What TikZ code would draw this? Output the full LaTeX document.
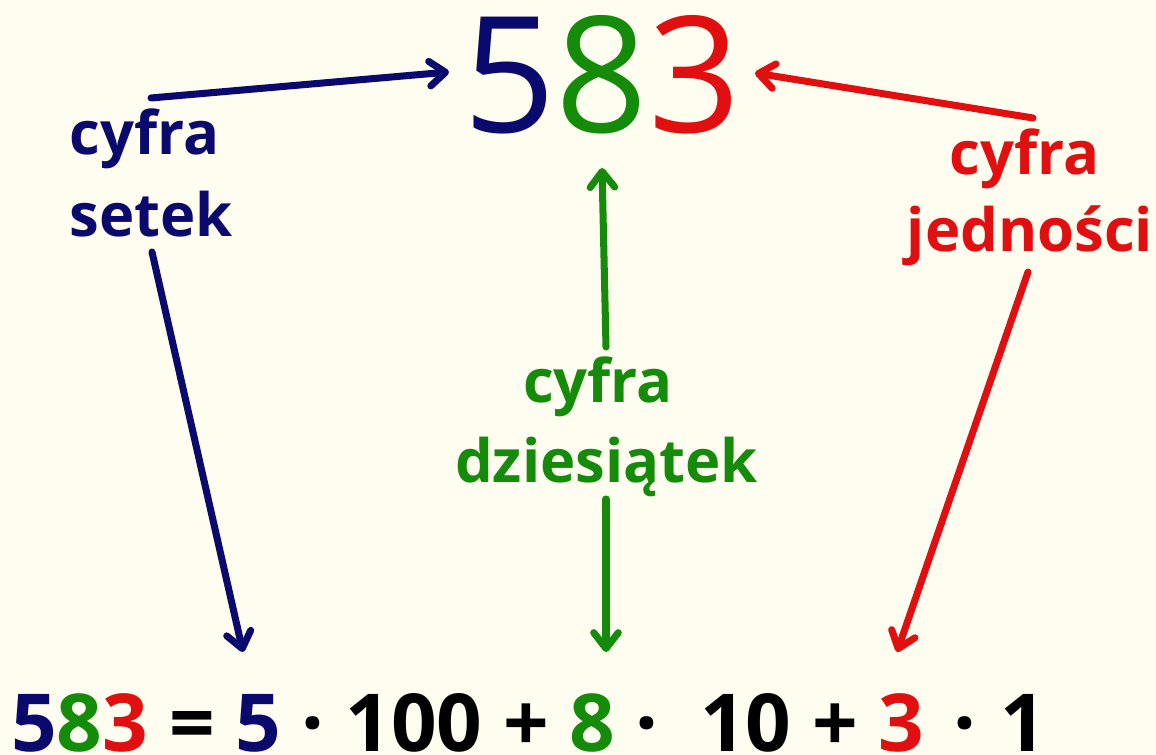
\documentclass[tikz,border=0pt]{standalone}
\usepackage{fontspec}
\setmainfont{Open Sans}
\usetikzlibrary{arrows.meta}
\definecolor{setki}{RGB}{10,10,110}
\definecolor{dziesiatki}{RGB}{20,140,10}
\definecolor{jednostki}{RGB}{225,15,15}
\definecolor{tlo}{RGB}{255,253,240}

\begin{document}
\begin{tikzpicture}[line cap=round,line join=round,x=1.0cm,y=1.0cm,
	lbl/.style={font=\fontsize{34}{40}\selectfont\bfseries,inner sep=0pt},
	arr/.style={line width=4pt,-{Straight Barb[length=9pt,width=14pt,round]}}]
	\fill[tlo] (0.,0.) rectangle (23.12,15.1);
	\useasboundingbox (0.,0.) rectangle (23.12,15.1);
	% liczba i rozklad
	\node[font=\fontsize{92}{100}\selectfont,anchor=base,inner sep=0pt] (liczba) at (12.04,12.44) {\textcolor{setki}{5}\textcolor{dziesiatki}{8}\textcolor{jednostki}{3}};
	\node[font=\fontsize{45.5}{50}\selectfont\bfseries,anchor=base west,inner sep=0pt,text depth=0pt] (rozklad) at (0.22,0.06) {\textcolor{setki}{5}\textcolor{dziesiatki}{8}\textcolor{jednostki}{3} = \textcolor{setki}{5} · 100 + \textcolor{dziesiatki}{8} ·\ \ 10 + \textcolor{jednostki}{3}\hspace{0.1em} ·\hspace{0.05em} 1};
	% etykiety
	\node[lbl,setki,anchor=base west] (setekA) at (1.38,12.0) {cyfra};
	\node[lbl,setki,anchor=base west] (setekB) at (1.38,10.36) {setek};
	\node[lbl,dziesiatki,anchor=base] (dziesA) at (11.96,7.04) {cyfra};
	\node[lbl,dziesiatki,anchor=base] (dziesB) at (12.13,5.44) {dziesiątek};
	\node[lbl,jednostki,anchor=base] (jednA) at (20.49,11.6) {cyfra};
	\node[lbl,jednostki,anchor=base] (jednB) at (20.6,10.06) {jedności};
	% konce strzalek
	\coordinate (s1) at (3.02,13.14);
	\coordinate (s2) at (8.98,13.66);
	\coordinate (s3) at (3.04,10.06);
	\coordinate (s4) at (4.86,2.06);
	\coordinate (d1) at (12.12,8.16);
	\coordinate (d2) at (12.04,11.74);
	\coordinate (d3) at (12.12,5.12);
	\coordinate (d4) at (12.12,2.06);
	\coordinate (j1) at (20.66,12.74);
	\coordinate (j2) at (15.10,13.64);
	\coordinate (j3) at (20.56,9.66);
	\coordinate (j4) at (17.94,2.06);
	\draw [arr,setki] (s1)-- (s2);
	\draw [arr,setki] (s3)-- (s4);
	\draw [arr,dziesiatki] (d1)-- (d2);
	\draw [arr,dziesiatki] (d3)-- (d4);
	\draw [arr,jednostki] (j1)-- (j2);
	\draw [arr,jednostki] (j3)-- (j4);
\end{tikzpicture}
\end{document}
